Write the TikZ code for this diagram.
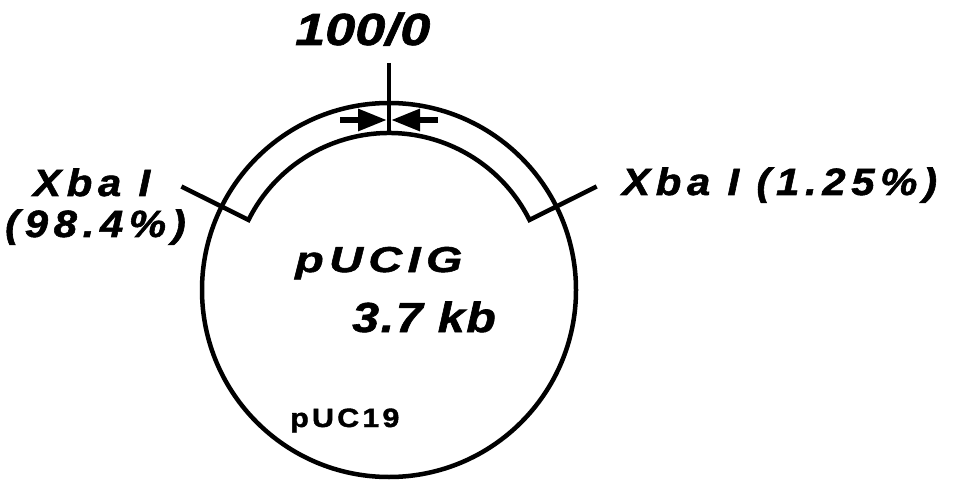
\documentclass[tikz,border=0pt]{standalone}
\usepackage{fontspec}
\newfontfamily\hv{Liberation Sans}
\usetikzlibrary{arrows.meta}
% #1 size, #2 stretch, #3 letter spacing
\newcommand{\lbl}[3]{\hv\bfseries\itshape\fontsize{#1}{#1}\selectfont\addfontfeature{FakeStretch=#2,FakeBold=1.5,LetterSpace=#3}}
\begin{document}
\begin{tikzpicture}[x=1pt,y=1pt,
  txt/.style={inner sep=0pt,anchor=base west},
  ring/.style={line width=4.5pt},
  tick/.style={line width=4.5pt,line join=miter},
  pointer/.style={line width=6pt,-{Triangle[length=29pt,width=21pt]}}]
\useasboundingbox (0,0) rectangle (960,485);
\coordinate (c) at (389,195);
% outer circle
\draw[ring] (c) circle[radius=187];
% inner arc with radial ticks
\draw[tick] (c) ++(153.5:232) -- ++(153.5:-75) arc[start angle=153.5,end angle=26.5,radius=157] -- ++(26.5:75);
% origin tick
\coordinate (t1) at (389,422);
\coordinate (t2) at (389,352);
\draw[line width=3.5pt] (t1) -- (t2);
% arrows
\coordinate (a1) at (340,365);
\coordinate (a2) at (387,365);
\coordinate (b1) at (438,365);
\coordinate (b2) at (391,365);
\draw[pointer] (a1) -- (a2);
\draw[pointer] (b1) -- (b2);
% labels
\node[txt,font=\lbl{45}{1.2}{0}] (n0) at (295,440) {100/0};
\node[txt,font=\lbl{38}{1.1}{15}] (xl) at (33,289) {Xba I};
\node[txt,font=\lbl{38}{1.1}{15}] (pl) at (5,248) {(98.4\%)};
\node[txt,font=\lbl{38}{1.1}{15}] (xr) at (622,290) {Xba I (1.25\%)};
\node[txt,font=\lbl{36}{1.3}{15}] (pg) at (295,213) {pUCIG};
\node[txt,font=\lbl{42}{1.15}{4}] (kb) at (352,153) {3.7 kb};
\node[txt,font={\hv\bfseries\fontsize{26.5}{26.5}\selectfont\addfontfeature{FakeStretch=1.15,FakeBold=1.5,LetterSpace=12}}] (p19) at (290,58) {pUC19};
\end{tikzpicture}
\end{document}
